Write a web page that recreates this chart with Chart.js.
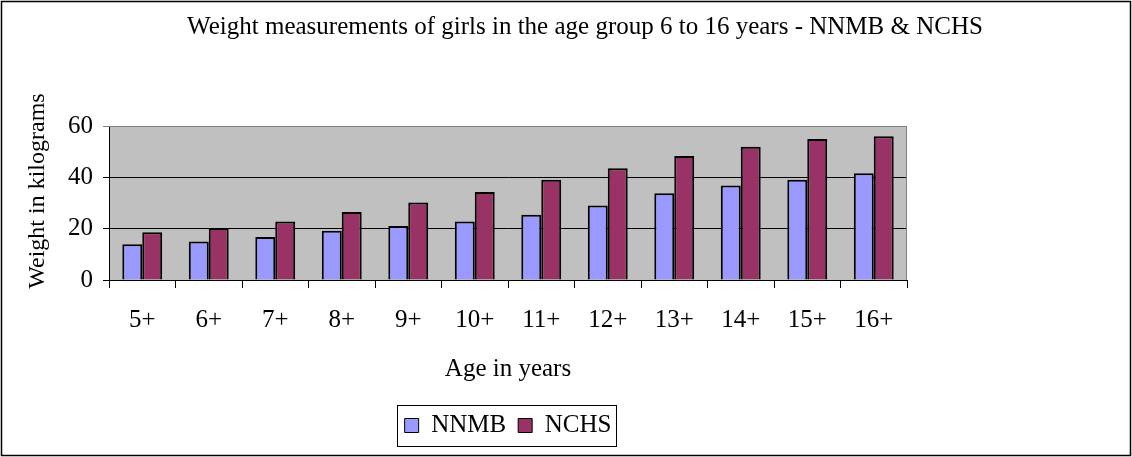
<!DOCTYPE html>
<html>
<head>
<meta charset="utf-8">
<script src="https://cdn.jsdelivr.net/npm/chart.js@4"></script>
<style>
  html, body { margin: 0; background: #fff; }
  #wrap { width: 1132px; height: 457px; position: relative; }
</style>
</head>
<body>
<div id="wrap"><canvas id="chart"></canvas></div>
<script>
const ages = ["5+", "6+", "7+", "8+", "9+", "10+", "11+", "12+", "13+", "14+", "15+", "16+"];
const nnmb = [13.9, 15.0, 16.8, 19.2, 21.0, 22.8, 25.4, 29.0, 33.8, 36.8, 39.1, 41.6];
const nchs = [18.6, 20.3, 22.8, 26.5, 30.2, 34.3, 39.1, 43.5, 48.3, 51.9, 54.9, 56.0];
const yTicks = [0, 20, 40, 60];

const serif = "'Liberation Serif', 'Times New Roman', serif";

// grey plot background, grey top/right edge, outer frame and legend frame
const decor = {
  id: "decor",
  beforeDraw(chart) {
    const { ctx, chartArea: a } = chart;
    ctx.save();
    ctx.fillStyle = "#c0c0c0";
    ctx.fillRect(a.left, a.top, a.right - a.left, a.bottom - a.top);
    ctx.restore();
  },
  afterDatasetsDraw(chart) {
    const { ctx, chartArea: a } = chart;
    ctx.save();
    ctx.strokeStyle = "#808080";
    ctx.lineWidth = 1;
    ctx.beginPath();
    ctx.moveTo(a.left, a.top + 0.5);
    ctx.lineTo(a.right - 0.5, a.top + 0.5);
    ctx.lineTo(a.right - 0.5, a.bottom);
    ctx.stroke();
    ctx.restore();
  },
  afterDraw(chart) {
    const { ctx } = chart;
    ctx.save();
    ctx.strokeStyle = "#000";
    ctx.lineWidth = 1.5;
    ctx.strokeRect(1.5, 1.5, chart.width - 3, chart.height - 3);
    const boxes = chart.legend.legendHitBoxes;
    if (boxes && boxes.length) {
      const l = Math.min(...boxes.map(b => b.left)) - 8;
      const r = Math.max(...boxes.map(b => b.left + b.width)) + 4;
      const t = Math.min(...boxes.map(b => b.top)) - 8;
      const btm = Math.max(...boxes.map(b => b.top + b.height)) + 8;
      ctx.lineWidth = 1;
      ctx.strokeRect(Math.round(l) + 0.5, Math.round(t) + 0.5, Math.round(r - l), Math.round(btm - t));
    }
    ctx.restore();
  }
};

new Chart(document.getElementById("chart"), {
  type: "bar",
  data: {
    labels: ages,
    datasets: [
      { label: "NNMB", data: nnmb, backgroundColor: "#9999ff", borderColor: "#000", borderWidth: 2, yAxisID: "y" },
      { label: "NCHS", data: nchs, backgroundColor: "#993366", borderColor: "#000", borderWidth: 2, yAxisID: "y" }
    ]
  },
  options: {
    responsive: true,
    maintainAspectRatio: false,
    animation: false,
    datasets: { bar: { categoryPercentage: 0.6, barPercentage: 1.0 } },
    layout: { padding: { left: 38, right: 0, top: 0, bottom: 9 } },
    plugins: {
      title: {
        display: true,
        text: "Weight measurements of girls in the age group 6 to 16 years - NNMB & NCHS",
        color: "#000",
        font: { family: serif, size: 25, weight: "normal", lineHeight: 1.2 },
        padding: { top: 12, bottom: 84 },
        align: "center"
      },
      legend: {
        position: "bottom",
        fullSize: false,
        labels: {
          color: "#000",
          font: { family: serif, size: 25 },
          boxWidth: 14,
          boxHeight: 14,
          padding: 12,
          generateLabels(chart) {
            return chart.data.datasets.map((ds, i) => ({
              text: ds.label,
              fillStyle: ds.backgroundColor,
              strokeStyle: "#000",
              lineWidth: 1,
              datasetIndex: i,
              hidden: false
            }));
          }
        }
      },
      tooltip: { enabled: false }
    },
    scales: {
      x: {
        grid: { display: true, drawOnChartArea: false, offset: true, color: "#000", tickLength: 8 },
        border: { display: true, color: "#000", width: 1 },
        ticks: { color: "#000", font: { family: serif, size: 25 }, padding: 17, maxRotation: 0 },
        title: {
          display: true,
          text: "Age in years",
          color: "#000",
          font: { family: serif, size: 25, lineHeight: 1.2 },
          padding: { top: 4, bottom: 17 }
        },
        afterFit(scale) { scale.height = 121; }
      },
      y: {
        position: "left",
        min: 0,
        max: 60,
        afterBuildTicks(scale) { scale.ticks = yTicks.map(v => ({ value: v })); },
        grid: {
          color: c => (c.tick && c.tick.value === 60 ? "#808080" : "#000"),
          lineWidth: 1,
          tickLength: 6
        },
        border: { display: true, color: "#000", width: 1 },
        ticks: { color: "#000", font: { family: serif, size: 25 }, padding: 10 },
        title: {
          display: true,
          text: "    Weight in kilograms",
          color: "#000",
          font: { family: serif, size: 24, lineHeight: 1.2 },
          padding: { top: -15, bottom: 0 }
        },
        afterFit(scale) { scale.width = 71; }
      },
      // empty right-hand spacer so the plot ends where the reference does
      spacer: {
        type: "linear",
        position: "right",
        display: true,
        grid: { display: false },
        border: { display: false },
        ticks: { display: false },
        afterFit(scale) { scale.width = 225; }
      }
    }
  },
  plugins: [decor]
});
</script>
</body>
</html>
